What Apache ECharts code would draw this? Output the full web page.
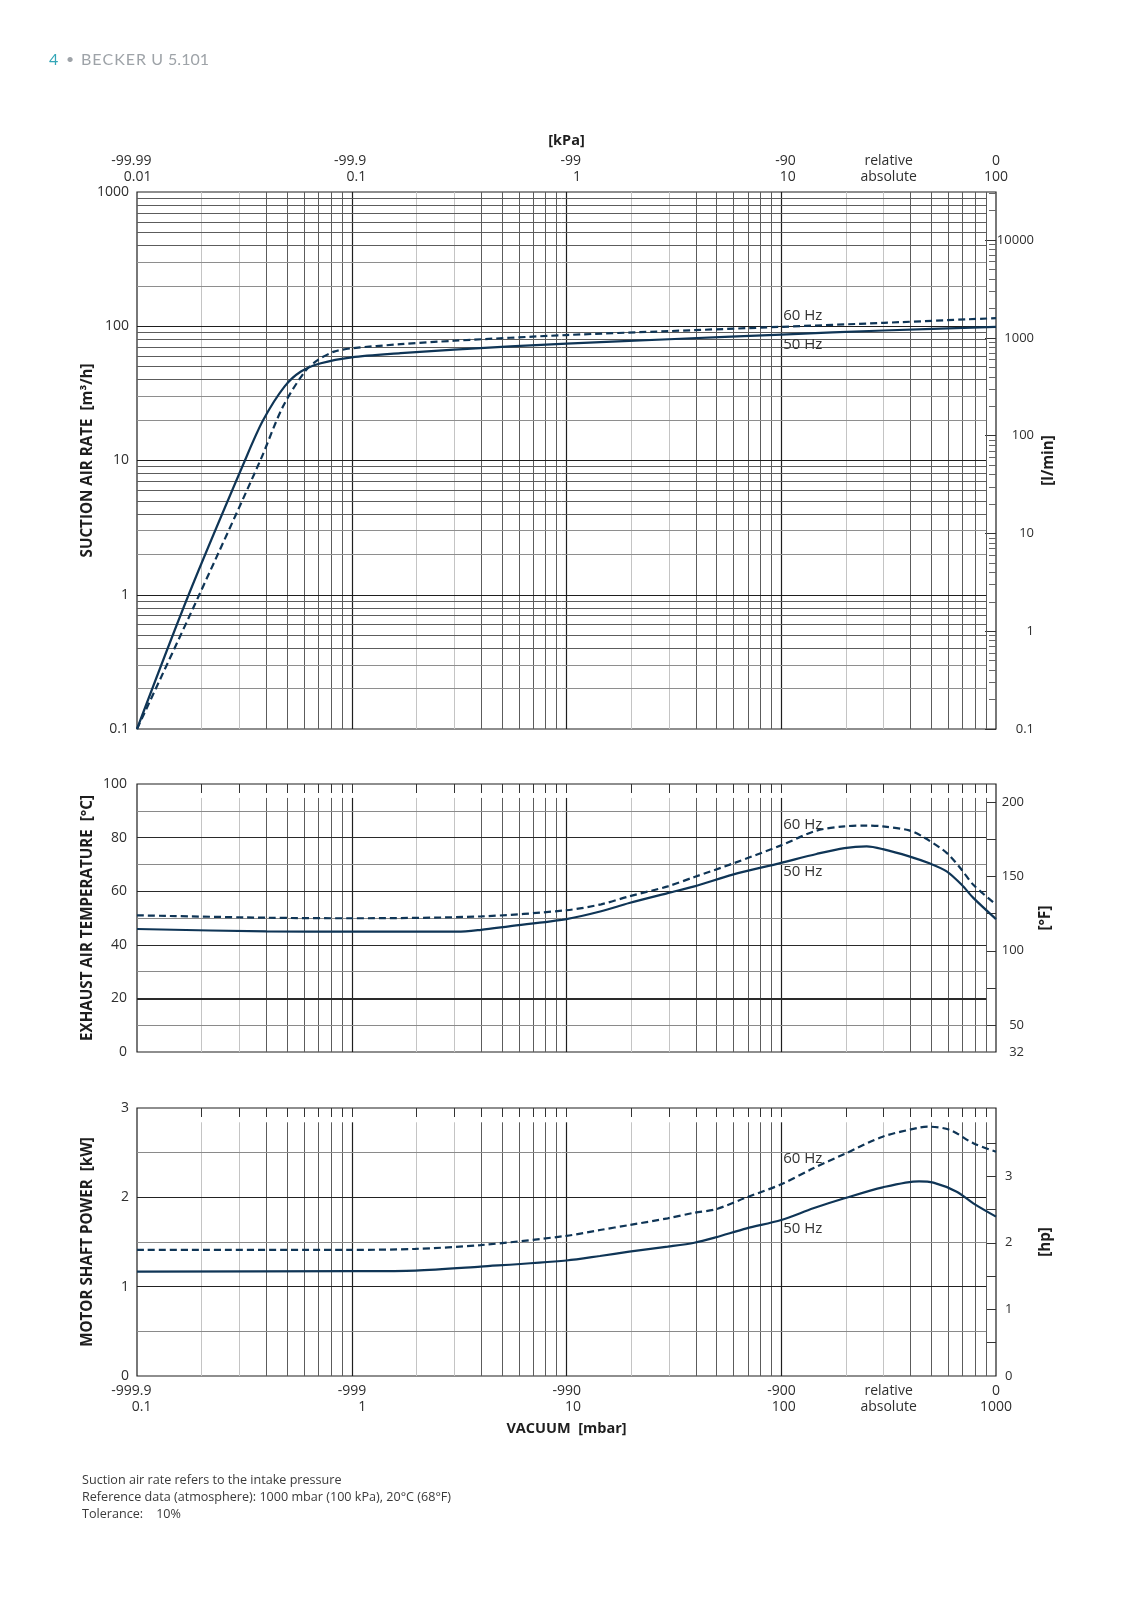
<!DOCTYPE html>
<html lang="en">
<head>
<meta charset="UTF-8">
<title>BECKER U 5.101</title>
<script src="https://cdn.jsdelivr.net/npm/echarts@6/dist/echarts.min.js"></script>
<style>
    *{margin:0;padding:0;}
    html,body{width:100%;height:100%;overflow:hidden;background:#fff;}
    .container{width:1131px;height:1600px;}
</style>
</head>
<body>
<div class="container"></div>
<script>
// suction air rate: absolute pressure [kPa] -> [m3/h]
let suctionP50 = [0.01, 0.0174, 0.0318, 0.0387, 0.0486, 0.058, 0.0718, 0.1, 0.169, 0.3, 1, 3, 10, 30, 100];
let suction50  = [0.1, 1, 10, 20, 35.5, 46, 53, 58.7, 63, 67, 74.3, 80, 86.7, 93, 99];
let suctionP60 = [0.01, 0.0195, 0.0375, 0.0477, 0.0605, 0.0694, 0.0828, 0.1, 0.169, 0.3, 1, 3, 10, 30, 100];
let suction60  = [0.1, 1, 10, 25, 46, 56, 64.7, 68.5, 73.5, 78, 86, 92, 99, 106, 115];

// exhaust air temperature: absolute pressure [mbar] -> [°C]
let tempP50 = [0.1, 0.4, 1, 3.1, 4, 5.4, 10, 14.5, 19.6, 29.6, 39.4, 59.4, 99, 146, 197, 250, 297, 394, 493, 589, 692, 784, 1000];
let temp50  = [45.9, 45.0, 44.9, 44.9, 45.6, 46.9, 49.6, 52.5, 55.6, 59.3, 61.8, 66.2, 70.5, 73.9, 76.1, 76.7, 75.7, 73.0, 70.3, 67.4, 62.4, 57.5, 49.6];
let tempP60 = [0.1, 0.4, 1, 4, 10, 14.5, 19.6, 29.6, 39.4, 59.4, 99, 146, 197, 250, 297, 394, 459, 589, 692, 784, 1000];
let temp60  = [51.0, 50.1, 49.9, 50.6, 52.9, 55.1, 58.1, 61.8, 65.3, 70.3, 77.0, 82.6, 84.2, 84.5, 84.2, 82.7, 80.2, 74.3, 68.0, 62.4, 55.0];

// motor shaft power: absolute pressure [mbar] -> [kW]
let powerP50 = [0.1, 1, 1.98, 3.98, 10, 14.3, 19.6, 29.6, 39.4, 49.5, 69, 100, 141, 197, 297, 438, 511, 656, 784, 1000];
let power50  = [1.169, 1.173, 1.18, 1.225, 1.293, 1.343, 1.392, 1.448, 1.492, 1.552, 1.653, 1.746, 1.877, 1.989, 2.112, 2.179, 2.164, 2.063, 1.933, 1.784];
let powerP60 = [0.1, 1, 1.98, 3.98, 10, 14.3, 19.6, 29.6, 39.4, 49.5, 69, 100, 141, 197, 297, 438, 484, 611, 784, 1000];
let power60  = [1.412, 1.412, 1.423, 1.465, 1.569, 1.634, 1.690, 1.765, 1.828, 1.866, 2.0, 2.146, 2.325, 2.485, 2.679, 2.780, 2.791, 2.754, 2.605, 2.511];

// tick labels
let kpaTicks = [0.01, 0.1, 1, 10, 31.623, 100];
let kpaRel   = ['-99.99', '-99.9', '-99', '-90', 'relative', '0'];
let kpaAbs   = ['0.01', '0.1', '1', '10', 'absolute', '100'];
let mbarTicks = [0.1, 1, 10, 100, 316.23, 1000];
let mbarRel   = ['-999.9', '-999', '-990', '-900', 'relative', '0'];
let mbarAbs   = ['0.1', '1', '10', '100', 'absolute', '1000'];
let lminLabels = [0.1, 1, 10, 100, 1000, 10000];
let fahrLabels = [32, 50, 100, 150, 200];
let fahrTicks  = [50, 75, 100, 125, 150, 175, 200];
let hpLabels = [0, 1, 2, 3];
let hpTicks  = [0.5, 1, 1.5, 2, 2.5, 3, 3.5];
let tempGrid  = [10, 20, 30, 40, 50, 60, 70, 80, 90];
let powerGrid = [0.5, 1, 1.5, 2, 2.5];

const FONT = 'Open Sans';
const INK = '#1e1e1e';
const TXT = '#2e2e2e';
const CURVE = '#0f3556';

let zip = (xs, ys) => xs.map((x, i) => [x, ys[i]]);

// m * 10^k positions strictly between lo and hi
function logSteps(lo, hi, from) {
    let out = [];
    for (let e = Math.round(Math.log10(lo)); e < Math.round(Math.log10(hi)) + 1; e++) {
        for (let m = from; m <= 9; m++) {
            let v = +(m * Math.pow(10, e)).toPrecision(4);
            if (v > lo * 1.0001 && v < hi * 0.9999) out.push({v, m});
        }
    }
    return out;
}
let vStyle = m => m === 1 ? {color: '#1e1e1e', width: 1.2, type: 'solid'}
    : (m <= 3 ? {color: '#c4c4c4', width: 1, type: 'solid'} : {color: '#5c5c5c', width: 1, type: 'solid'});
let hStyle = m => m === 1 ? {color: '#1e1e1e', width: 1.2, type: 'solid'}
    : (m <= 3 ? {color: '#8e8e8e', width: 1, type: 'solid'} : {color: '#5c5c5c', width: 1, type: 'solid'});

function lineSeg(x1, y1, x2, y2, style) {
    return [{coord: [x1, y1], lineStyle: style}, {coord: [x2, y2]}];
}

// grid lines panel 1 (kPa / m3/h)
let g1 = [];
logSteps(0.01, 100, 1).forEach(s => g1.push(lineSeg(s.v, 0.1, s.v, 1000, vStyle(s.m))));
logSteps(0.1, 1000, 1).forEach(s => g1.push(lineSeg(0.01, s.v, 90, s.v, hStyle(s.m))));
// panel 2 (mbar / °C)
let g2 = [];
logSteps(0.1, 1000, 1).forEach(s => g2.push(lineSeg(s.v, 0, s.v, 94.8, vStyle(s.m))));
tempGrid.forEach(t => g2.push(lineSeg(0.1, t, 900, t,
    t % 20 === 0 ? {color: '#2a2a2a', width: t === 20 ? 1.8 : 1.1, type: 'solid'} : {color: '#8a8a8a', width: 1, type: 'solid'})));
// panel 3 (mbar / kW)
let g3 = [];
logSteps(0.1, 1000, 1).forEach(s => g3.push(lineSeg(s.v, 0, s.v, 2.84, vStyle(s.m))));
powerGrid.forEach(p => g3.push(lineSeg(0.1, p, 900, p,
    p % 1 === 0 ? {color: '#222', width: 1.1, type: 'solid'} : {color: '#8a8a8a', width: 1, type: 'solid'})));

let topTicks = logSteps(0.1, 1000, 1).map(s => s.v);
let lminMinor = logSteps(0.1, 31000, 2).map(s => s.v);

function gridSeries(xi, yi, data) {
    return {
        type: 'line', xAxisIndex: xi, yAxisIndex: yi, data: [], silent: true,
        markLine: {silent: true, symbol: ['none', 'none'], label: {show: false}, animation: false, data}
    };
}
function curve(name, xi, yi, data, dashed) {
    return {
        name, type: 'line', xAxisIndex: xi, yAxisIndex: yi, data, z: 10,
        symbol: 'none', showSymbol: false, smooth: 0.3,
        lineStyle: {color: CURVE, width: 2.2, type: dashed ? [7, 4] : 'solid'}
    };
}

function pressLabel(ticks, rel, abs) {
    return function (v) {
        let i = ticks.findIndex(t => Math.abs(Math.log10(t) - Math.log10(v)) < 0.01);
        if (i < 0) return '';
        let st = i >= 4 ? 'c' : 'r';
        return '{' + st + '|' + rel[i] + '}\n{' + st + '|' + abs[i] + '}';
    };
}
let labelRich = {
    r: {width: 29, align: 'right', fontFamily: FONT, fontSize: 14, color: TXT, lineHeight: 16},
    c: {align: 'center', fontFamily: FONT, fontSize: 14, color: TXT, lineHeight: 16}
};
let titleStyle = {fontFamily: FONT, fontWeight: 'bold', fontSize: 14.5, color: INK};
let yTitleStyle = {fontFamily: FONT, fontWeight: 'bold', fontSize: 15.2, color: INK};
let tickLabel = {fontFamily: FONT, fontSize: 14, color: TXT};
let rightLabel = {fontFamily: FONT, fontSize: 13, color: TXT};
let fmtNum = v => String(+(+v).toPrecision(4));
let hideLine = {show: false, onZero: false};
let yName = (name, gap) => ({name, nameLocation: 'middle', nameRotate: 90, nameGap: gap,
    nameMoveOverlap: false, nameTextStyle: yTitleStyle});

let grids = [
    {left: 137, width: 859, top: 192, height: 537},
    {left: 137, width: 859, top: 784, height: 268},
    {left: 137, width: 859, top: 1108, height: 268}
].map(g => Object.assign(g, {show: true, borderColor: INK, borderWidth: 1.2, outerBoundsMode: 'none'}));

let options = {
    animation: false,
    backgroundColor: '#fff',
    grid: grids,
    xAxis: [
        {
            gridIndex: 0, type: 'log', position: 'top', min: 0.01, max: 100,
            name: '[kPa]', nameLocation: 'middle', nameGap: 44, nameTextStyle: titleStyle,
            axisLine: hideLine, axisTick: {show: false}, splitLine: {show: false},
            axisLabel: Object.assign({customValues: kpaTicks, formatter: pressLabel(kpaTicks, kpaRel, kpaAbs),
                margin: 7, rich: labelRich}, tickLabel)
        },
        {
            gridIndex: 1, type: 'log', position: 'top', min: 0.1, max: 1000,
            axisLine: hideLine, axisLabel: {show: false}, splitLine: {show: false},
            axisTick: {show: true, inside: true, length: 9, customValues: topTicks, lineStyle: {color: '#333'}}
        },
        {
            gridIndex: 2, type: 'log', position: 'bottom', min: 0.1, max: 1000,
            name: 'VACUUM  [mbar]', nameLocation: 'middle', nameGap: 45, nameTextStyle: titleStyle,
            axisLine: hideLine, axisTick: {show: false}, splitLine: {show: false},
            axisLabel: Object.assign({customValues: mbarTicks, formatter: pressLabel(mbarTicks, mbarRel, mbarAbs),
                margin: 7, rich: labelRich}, tickLabel)
        },
        {
            gridIndex: 2, type: 'log', position: 'top', min: 0.1, max: 1000,
            axisLine: hideLine, axisLabel: {show: false}, splitLine: {show: false},
            axisTick: {show: true, inside: true, length: 9, customValues: topTicks, lineStyle: {color: '#333'}}
        }
    ],
    yAxis: [
        Object.assign({
            gridIndex: 0, type: 'log', position: 'left', min: 0.1, max: 1000,
            axisLine: hideLine, axisTick: {show: false}, splitLine: {show: false},
            axisLabel: Object.assign({formatter: fmtNum, margin: 8}, tickLabel)
        }, yName('SUCTION AIR RATE  [m³/h]', 42)),
        Object.assign({
            gridIndex: 0, type: 'log', position: 'right', min: 0.1, max: 31000,
            axisLine: hideLine, splitLine: {show: false},
            axisTick: {show: true, inside: true, length: 11, customValues: lminLabels, lineStyle: {color: '#333'}},
            axisLabel: Object.assign({customValues: lminLabels, formatter: fmtNum, align: 'right', margin: 38}, rightLabel)
        }, yName('[l/min]', 45)),
        {
            gridIndex: 0, type: 'log', position: 'right', min: 0.1, max: 31000,
            axisLine: hideLine, splitLine: {show: false}, axisLabel: {show: false},
            axisTick: {show: true, inside: true, length: 7, customValues: lminMinor, lineStyle: {color: '#666'}}
        },
        Object.assign({
            gridIndex: 1, type: 'value', position: 'left', min: 0, max: 100, interval: 20,
            axisLine: hideLine, axisTick: {show: false}, splitLine: {show: false},
            axisLabel: Object.assign({margin: 10}, tickLabel)
        }, yName('EXHAUST AIR TEMPERATURE  [°C]', 42)),
        Object.assign({
            gridIndex: 1, type: 'value', position: 'right', min: 32, max: 212,
            axisLine: hideLine, splitLine: {show: false},
            axisTick: {show: true, inside: true, length: 9, customValues: fahrTicks, lineStyle: {color: '#333'}},
            axisLabel: Object.assign({customValues: fahrLabels, align: 'right', margin: 28}, rightLabel)
        }, yName('[°F]', 42)),
        Object.assign({
            gridIndex: 2, type: 'value', position: 'left', min: 0, max: 3, interval: 1,
            axisLine: hideLine, axisTick: {show: false}, splitLine: {show: false},
            axisLabel: Object.assign({margin: 8}, tickLabel)
        }, yName('MOTOR SHAFT POWER  [kW]', 42)),
        Object.assign({
            gridIndex: 2, type: 'value', position: 'right', min: 0, max: 4.0231,
            axisLine: hideLine, splitLine: {show: false},
            axisTick: {show: true, inside: true, length: 9, customValues: hpTicks, lineStyle: {color: '#333'}},
            axisLabel: Object.assign({customValues: hpLabels, margin: 9}, rightLabel)
        }, yName('[hp]', 42))
    ],
    series: [
        gridSeries(0, 0, g1),
        gridSeries(1, 3, g2),
        gridSeries(2, 5, g3),
        curve('50 Hz', 0, 0, zip(suctionP50, suction50), false),
        curve('60 Hz', 0, 0, zip(suctionP60, suction60), true),
        curve('50 Hz', 1, 3, zip(tempP50, temp50), false),
        curve('60 Hz', 1, 3, zip(tempP60, temp60), true),
        curve('50 Hz', 2, 5, zip(powerP50, power50), false),
        curve('60 Hz', 2, 5, zip(powerP60, power60), true)
    ]
};

let chart = echarts.init(document.querySelector('.container'));
chart.setOption(options);

// curve labels placed next to the 100 mbar / 10 kPa line
let notes = [
    {xi: 0, yi: 0, at: [10, 119], text: '60 Hz'},
    {xi: 0, yi: 0, at: [10, 72.4], text: '50 Hz'},
    {xi: 1, yi: 3, at: [100, 84.7], text: '60 Hz'},
    {xi: 1, yi: 3, at: [100, 67.2], text: '50 Hz'},
    {xi: 2, yi: 5, at: [100, 2.43], text: '60 Hz'},
    {xi: 2, yi: 5, at: [100, 1.646], text: '50 Hz'}
];
let graphic = notes.map(n => {
    let p = chart.convertToPixel({xAxisIndex: n.xi, yAxisIndex: n.yi}, n.at);
    return {type: 'text', x: p[0] + 2, y: p[1], z: 20,
        style: {text: n.text, fill: '#333', font: '15px "Open Sans"', textVerticalAlign: 'middle'}};
});
let foot = '#3a3a3a';
graphic.push(
    {type: 'text', x: 49, y: 60, style: {text: '4', fill: '#34a6b7', font: '16px Lato', textVerticalAlign: 'middle'}},
    {type: 'text', x: 66, y: 59, style: {text: '•', fill: '#9ea3a8', font: '14px Lato', textVerticalAlign: 'middle'}},
    {type: 'text', x: 81, y: 60, style: {text: 'B E C K E R  U  5.101'.replace(/ (?! )/g, '\u200A'), fill: '#9ea3a8', font: '16px Lato', textVerticalAlign: 'middle'}},
    {type: 'text', x: 82, y: 1480, style: {text: 'Suction air rate refers to the intake pressure', fill: foot, font: '12.6px "Open Sans"', textVerticalAlign: 'middle'}},
    {type: 'text', x: 82, y: 1497, style: {text: 'Reference data (atmosphere): 1000 mbar (100 kPa), 20°C (68°F)', fill: foot, font: '12.6px "Open Sans"', textVerticalAlign: 'middle'}},
    {type: 'text', x: 82, y: 1514, style: {text: 'Tolerance:    10%', fill: foot, font: '12.6px "Open Sans"', textVerticalAlign: 'middle'}}
);
chart.setOption({graphic});
</script>
</body>
</html>
